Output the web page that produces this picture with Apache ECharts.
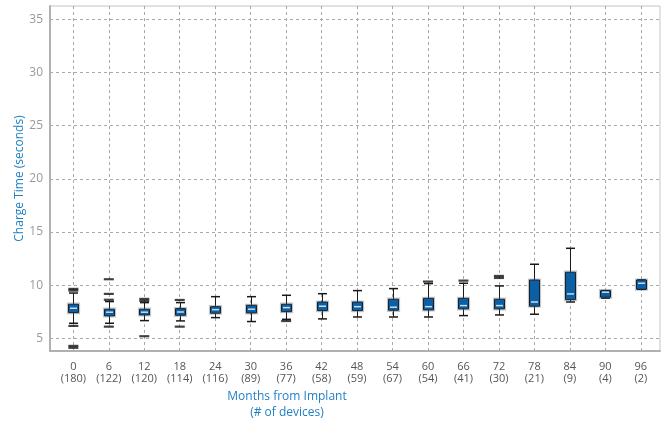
<!DOCTYPE html>
<html>
<head>
<meta charset="utf-8">
<script src="https://cdn.jsdelivr.net/npm/echarts@6/dist/echarts.min.js"></script>
<style>
  html, body { margin: 0; padding: 0; background: #ffffff; }
  #chart { width: 666px; height: 423px; }
</style>
</head>
<body>
<div id="chart"></div>
<script>
// ---- data ----
var months = [0, 6, 12, 18, 24, 30, 36, 42, 48, 54, 60, 66, 72, 78, 84, 90, 96];
var deviceCounts = [180, 122, 120, 114, 116, 89, 77, 58, 59, 67, 54, 41, 30, 21, 9, 4, 2];
var whiskerLow  = [6.41, 6.41, 6.66, 6.63, 6.94, 6.57, 6.78, 6.82, 7.00, 7.00, 7.00, 7.13, 7.19, 7.26, 8.41, 8.76, 9.61];
var q1          = [7.41, 7.10, 7.19, 7.16, 7.35, 7.38, 7.50, 7.60, 7.60, 7.63, 7.66, 7.76, 7.76, 8.01, 8.63, 8.86, 9.61];
var medians     = [7.82, 7.45, 7.45, 7.47, 7.69, 7.73, 7.88, 8.01, 7.97, 7.92, 7.97, 8.07, 8.07, 8.41, 9.17, 9.33, 10.17];
var q3          = [8.20, 7.73, 7.73, 7.79, 7.97, 8.10, 8.20, 8.41, 8.41, 8.67, 8.76, 8.76, 8.67, 10.48, 11.21, 9.48, 10.48];
var whiskerHigh = [9.25, 8.45, 8.35, 8.35, 8.91, 8.91, 9.04, 9.19, 9.48, 9.67, 10.14, 10.17, 9.92, 11.96, 13.46, 9.48, 10.48];
var outlierMonths = [0, 0, 0, 0, 0, 6, 6, 6, 6, 12, 12, 12, 18, 18, 36, 60, 66, 72, 72];
var outlierValues = [9.48, 9.64, 6.16, 4.28, 4.10, 8.62, 9.17, 10.55, 6.09, 8.51, 8.70, 5.19, 8.60, 6.09, 6.62, 10.33, 10.42, 10.67, 10.86];
var yTicks = [5, 10, 15, 20, 25, 30, 35];

// ---- build ----
var boxData = months.map(function (m, i) {
  return [m, whiskerLow[i], q1[i], medians[i], q3[i], whiskerHigh[i]];
});
var outlierData = outlierMonths.map(function (m, i) { return [m, outlierValues[i]]; });

var BOX_W = 10, CAP_W = 9;
function renderBox(params, api) {
  var x = api.value(0);
  var pLow = api.coord([x, api.value(1)]);
  var pQ1 = api.coord([x, api.value(2)]);
  var pMed = api.coord([x, api.value(3)]);
  var pQ3 = api.coord([x, api.value(4)]);
  var pHigh = api.coord([x, api.value(5)]);
  var cx = Math.round(pQ1[0]) + 0.5;
  var line = { stroke: '#1a1a1a', lineWidth: 1 };
  var children = [
    { type: 'line', shape: { x1: cx, y1: pLow[1], x2: cx, y2: pQ1[1] }, style: line },
    { type: 'line', shape: { x1: cx, y1: pQ3[1], x2: cx, y2: pHigh[1] }, style: line },
    { type: 'line', shape: { x1: cx - CAP_W / 2, y1: pLow[1], x2: cx + CAP_W / 2, y2: pLow[1] }, style: { stroke: '#1a1a1a', lineWidth: 1.5 } },
    { type: 'line', shape: { x1: cx - CAP_W / 2, y1: pHigh[1], x2: cx + CAP_W / 2, y2: pHigh[1] }, style: { stroke: '#1a1a1a', lineWidth: 1.5 } },
    { type: 'rect', shape: { x: cx - BOX_W / 2 - 1, y: pQ3[1] - 1, width: BOX_W + 2, height: Math.max(pQ1[1] - pQ3[1], 1) + 2 },
      style: { fill: 'none', stroke: 'rgba(110,110,110,0.4)', lineWidth: 1.2 } },
    { type: 'rect', shape: { x: cx - BOX_W / 2, y: pQ3[1], width: BOX_W, height: Math.max(pQ1[1] - pQ3[1], 1) },
      style: { fill: '#0b5fa5', stroke: '#16212b', lineWidth: 1 } },
    { type: 'line', shape: { x1: cx - BOX_W / 2 + 1.5, y1: pMed[1], x2: cx + BOX_W / 2 - 1.5, y2: pMed[1] },
      style: { stroke: '#c9dcec', lineWidth: 1.5 } }
  ];
  return { type: 'group', children: children };
}

var chart = echarts.init(document.getElementById('chart'), null, { renderer: 'canvas' });
var gridLine = { show: true, lineStyle: { color: '#a9a9a9', width: 1, type: [3, 3] } };
chart.setOption({
  animation: false,
  backgroundColor: '#ffffff',
  grid: { left: 50, right: 6, top: 6, bottom: 72, show: true, borderColor: '#c4c4c4', borderWidth: 1, backgroundColor: 'transparent' },
  xAxis: {
    type: 'value', min: -3.95, max: 99.25,
    axisLine: { show: true, onZero: false, lineStyle: { color: '#b0b0b0', width: 2 } },
    axisTick: { show: false, customValues: months },
    axisLabel: {
      customValues: months, margin: 10, color: '#555555', fontSize: 11, lineHeight: 12,
      fontFamily: 'Open Sans',
      formatter: function (v) { var i = months.indexOf(v); return v + '\n(' + deviceCounts[i] + ')'; }
    },
    splitLine: gridLine
  },
  yAxis: {
    type: 'value', min: 3.8, max: 36.25,
    name: 'Charge Time (seconds)', nameLocation: 'middle', nameGap: 24, nameRotate: 90,
    nameMoveOverlap: false,
    nameTextStyle: { color: '#1f7fc4', fontSize: 12, fontFamily: 'Open Sans' },
    axisLine: { show: true, onZero: false, lineStyle: { color: '#b0b0b0', width: 2 } },
    axisTick: { show: false, customValues: yTicks },
    axisLabel: { customValues: yTicks, margin: 7, color: '#999999', fontSize: 12, fontFamily: 'Open Sans' },
    splitLine: gridLine
  },
  graphic: [
    { type: 'text', x: 287, y: 405,
      style: { text: 'Months from Implant\n(# of devices)', fill: '#1f7fc4', fontSize: 12, lineHeight: 16,
               fontFamily: 'Open Sans', textAlign: 'center', textVerticalAlign: 'middle' } }
  ],
  series: [
    { type: 'custom', renderItem: renderBox, data: boxData, encode: { x: 0, y: [1, 2, 3, 4, 5] }, z: 3 },
    { type: 'scatter', data: outlierData, symbol: 'rect', symbolSize: [10, 2.2],
      itemStyle: { color: '#111111' }, z: 4 }
  ]
});
</script>
</body>
</html>
